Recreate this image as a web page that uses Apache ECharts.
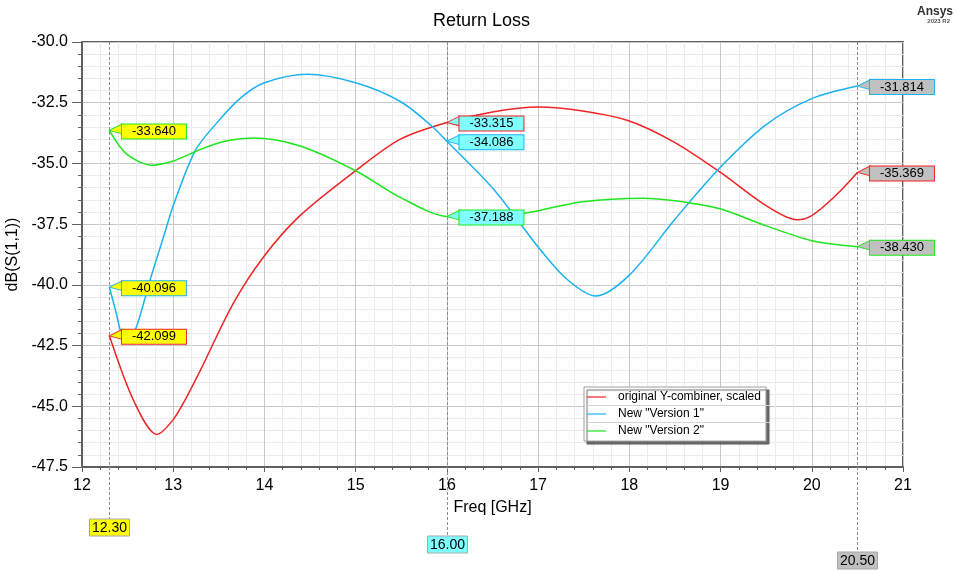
<!DOCTYPE html>
<html>
<head>
<meta charset="utf-8">
<title>Return Loss</title>
<script src="https://cdn.jsdelivr.net/npm/echarts@6/dist/echarts.min.js"></script>
<style>
  html, body { margin: 0; padding: 0; background: #ffffff; }
  #chart { width: 955px; height: 571px; }
</style>
</head>
<body>
<div id="chart"></div>
<script>
// Sweep samples (GHz) and return loss (dB) for each design
const freqOrig = [12.3, 12.57, 12.82, 13.0, 13.15, 13.3, 13.66, 14.0, 14.39, 15.0, 15.49, 16.0, 16.5, 17.0, 17.49, 18.0, 18.5, 19.0, 19.5, 19.84, 20.0, 20.26, 20.5];
const dbOrig   = [-42.099, -44.8, -46.16, -45.55, -44.6, -43.5, -40.75, -38.8, -37.15, -35.3, -34.0, -33.315, -32.88, -32.68, -32.84, -33.25, -34.14, -35.37, -36.74, -37.32, -37.15, -36.33, -35.369];

const freqV1 = [12.3, 12.38, 12.43, 12.5, 12.59, 12.75, 12.9, 13.0, 13.24, 13.48, 13.74, 14.0, 14.47, 15.0, 15.49, 15.84, 16.0, 16.51, 17.0, 17.31, 17.63, 18.0, 18.5, 19.0, 19.5, 20.0, 20.5];
const dbV1     = [-40.096, -41.23, -41.97, -42.2, -41.8, -39.75, -37.95, -36.74, -34.48, -33.32, -32.3, -31.68, -31.33, -31.68, -32.45, -33.48, -34.086, -36.05, -38.44, -39.75, -40.46, -39.6, -37.3, -35.15, -33.4, -32.33, -31.814];

const freqV2 = [12.3, 12.49, 12.77, 13.0, 13.3, 13.59, 13.88, 14.39, 15.0, 15.49, 16.0, 16.4, 16.84, 17.49, 18.15, 18.5, 19.0, 19.5, 20.0, 20.5];
const dbV2     = [-33.64, -34.62, -35.07, -34.9, -34.42, -34.07, -33.95, -34.28, -35.3, -36.4, -37.188, -37.22, -37.06, -36.58, -36.43, -36.54, -36.88, -37.57, -38.18, -38.43];

// Series names and trace colours
const seriesNames  = ['original Y-combiner, scaled', 'New "Version 1"', 'New "Version 2"'];
const seriesColors = ['#f02424', '#1cb2f0', '#1ee61e'];

// Marker frequencies and their label fills
const markerFreqs = [12.3, 16.0, 20.5];
const markerFills = ['#ffff00', '#80ffff', '#c0c0c0'];

// Axis ranges and ticks
const xMin = 12, xMax = 21, xStep = 1;
const yMin = -47.5, yMax = -30, yStep = 2.5;

const FONT = '"Liberation Sans", Arial, Helvetica, sans-serif';

const traces = [
  { x: freqOrig, y: dbOrig },
  { x: freqV1,   y: dbV1 },
  { x: freqV2,   y: dbV2 }
];

// Callout pointer: tip on the left at the marked point, base against the value box
const PTR_W = 13, PTR_H = 10, PTR_TIP = 6.5;
const pointerPath = 'path://M0 ' + PTR_TIP + ' L' + PTR_W + ' 0 L' + PTR_W + ' ' + PTR_H + ' Z';
const BOX_TEXT_W = 52, BOX_PAD = 6;

function markerPoints(trace, color) {
  return markerFreqs.map(function (f, i) {
    const k = trace.x.indexOf(f);
    const v = trace.y[k];
    return {
      coord: [f, v],
      value: v,
      itemStyle: { color: markerFills[i], borderColor: color, borderWidth: 1 },
      label: { backgroundColor: markerFills[i], borderColor: color }
    };
  });
}

const series = traces.map(function (t, i) {
  return {
    name: seriesNames[i],
    type: 'line',
    data: t.x.map(function (x, k) { return [x, t.y[k]]; }),
    smooth: 0.3,
    showSymbol: false,
    symbol: 'none',
    color: seriesColors[i],
    lineStyle: { width: 1.5, color: seriesColors[i] },
    z: 3,
    markPoint: {
      symbol: pointerPath,
      symbolSize: [PTR_W, PTR_H],
      symbolOffset: [PTR_W / 2, PTR_H / 2 - PTR_TIP],
      symbolKeepAspect: false,
      label: {
        show: true,
        position: 'right',
        distance: 0,
        // box is centred on its anchor, so shift it right by half its width
        offset: [BOX_TEXT_W / 2 + BOX_PAD - 1, 2.5],
        color: '#000',
        fontSize: 13,
        fontFamily: FONT,
        width: BOX_TEXT_W,
        height: 13,
        lineHeight: 13,
        align: 'center',
        verticalAlign: 'middle',
        padding: [1, BOX_PAD, 0, BOX_PAD],
        borderWidth: 1,
        formatter: function (p) { return p.value.toFixed(3); }
      },
      z: 5,
      data: markerPoints(t, seriesColors[i])
    }
  };
});

const chart = echarts.init(document.getElementById('chart'), null, { renderer: 'canvas' });

chart.setOption({
  backgroundColor: '#ffffff',
  animation: false,
  textStyle: { fontFamily: FONT },
  title: {
    text: 'Return Loss',
    left: 428,
    top: 7,
    textStyle: { fontSize: 18, fontWeight: 'normal', color: '#000', fontFamily: FONT }
  },
  grid: {
    left: 82, right: 52, top: 42, bottom: 104,
    containLabel: false,
    outerBoundsMode: 'none',
    show: true,
    borderColor: '#606060',
    borderWidth: 2,
    backgroundColor: 'transparent'
  },
  legend: {
    left: 584,
    top: 387,
    orient: 'vertical',
    selectedMode: false,
    data: seriesNames.map(function (n) { return { name: n, icon: 'rect' }; }),
    itemWidth: 19,
    itemHeight: 1.2,
    itemGap: 1,
    padding: [2, 5, 2, 3],
    backgroundColor: '#ffffff',
    borderColor: '#a0a0a0',
    borderWidth: 1,
    shadowColor: 'rgba(90,90,90,0.9)',
    shadowBlur: 1,
    shadowOffsetX: 3,
    shadowOffsetY: 3,
    textStyle: { fontSize: 12, lineHeight: 16, color: '#000', fontFamily: FONT, padding: [0, 0, 0, 7] }
  },
  xAxis: {
    type: 'value',
    min: xMin, max: xMax, interval: xStep,
    name: 'Freq [GHz]',
    nameLocation: 'middle',
    nameGap: 33,
    nameTextStyle: { fontSize: 16, color: '#000', fontFamily: FONT },
    axisLine: { show: true, onZero: false, lineStyle: { color: '#606060', width: 2 } },
    axisTick: { show: true, length: 5, lineStyle: { color: '#606060' } },
    minorTick: { show: true, splitNumber: 5, length: 3, lineStyle: { color: '#606060' } },
    axisLabel: { fontSize: 16, color: '#000', margin: 11, fontFamily: FONT },
    splitLine: { show: true, lineStyle: { color: '#c8c8c8', width: 1 } },
    minorSplitLine: { show: true, lineStyle: { color: '#ebebeb', width: 1 } }
  },
  yAxis: {
    type: 'value',
    min: yMin, max: yMax, interval: yStep,
    name: 'dB(S(1,1))',
    nameLocation: 'middle',
    nameRotate: 90,
    nameGap: 58,
    nameTextStyle: { fontSize: 16, color: '#000', fontFamily: FONT },
    axisLine: { show: true, onZero: false, lineStyle: { color: '#606060', width: 2 } },
    axisTick: { show: true, length: 10, lineStyle: { color: '#606060' } },
    minorTick: { show: true, splitNumber: 5, length: 4, lineStyle: { color: '#606060' } },
    axisLabel: {
      fontSize: 16, color: '#000', margin: 14, fontFamily: FONT,
      formatter: function (v) { return v.toFixed(1); }
    },
    splitLine: { show: true, lineStyle: { color: '#c8c8c8', width: 1 } },
    minorSplitLine: { show: true, lineStyle: { color: '#ebebeb', width: 1 } }
  },
  series: series
});

// Marker cursors: dashed verticals running below the axis to their frequency tags
function drawMarkerCursors() {
  const yTop = chart.convertToPixel({ yAxisIndex: 0 }, yMax);
  const tagTops = [519, 536, 552];
  const tagW = 40, tagH = 17;
  const elements = [];
  markerFreqs.forEach(function (f, i) {
    const px = Math.round(chart.convertToPixel({ xAxisIndex: 0 }, f)) + 0.5;
    elements.push({
      type: 'line',
      z: 1,
      silent: true,
      shape: { x1: px, y1: yTop, x2: px, y2: tagTops[i] },
      style: { stroke: '#8c8c8c', lineWidth: 1, lineDash: [3, 2] }
    });
    elements.push({
      type: 'rect',
      z: 6,
      silent: true,
      shape: { x: px - tagW / 2, y: tagTops[i], width: tagW, height: tagH },
      style: { fill: markerFills[i], stroke: '#a8a8a8', lineWidth: 1 }
    });
    elements.push({
      type: 'text',
      z: 7,
      silent: true,
      x: px,
      y: tagTops[i] + tagH / 2 + 0.5,
      style: {
        text: f.toFixed(2),
        fill: '#000',
        font: '14px ' + FONT,
        align: 'center',
        verticalAlign: 'middle'
      }
    });
  });

  // Row dividers inside the legend box
  elements.push(
    { type: 'line', z: 20, silent: true, shape: { x1: 584.5, y1: 405.5, x2: 770, y2: 405.5 }, style: { stroke: '#d4d4d4', lineWidth: 1 } },
    { type: 'line', z: 20, silent: true, shape: { x1: 584.5, y1: 422.5, x2: 770, y2: 422.5 }, style: { stroke: '#d4d4d4', lineWidth: 1 } }
  );

  // Product badge in the top-right corner
  elements.push(
    { type: 'text', z: 10, silent: true, right: 2, top: 6,
      style: { text: 'Ansys', fill: '#333', font: 'bold 12px ' + FONT } },
    { type: 'text', z: 10, silent: true, right: 5, top: 18,
      style: { text: '2023 R2', fill: '#555', font: 'bold 6px ' + FONT } }
  );

  chart.setOption({ graphic: elements });
}

drawMarkerCursors();
</script>
</body>
</html>
